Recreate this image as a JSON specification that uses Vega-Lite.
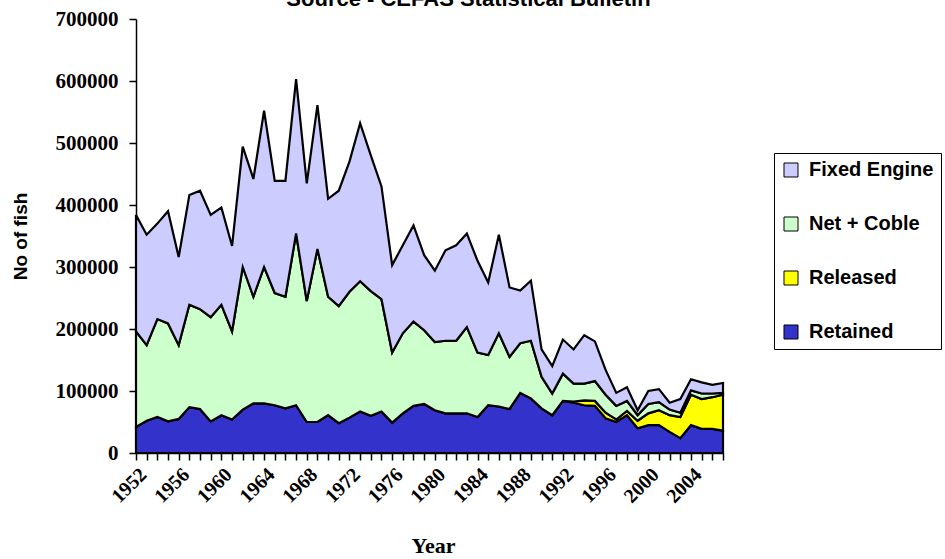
{
  "$schema": "https://vega.github.io/schema/vega-lite/v6.json",
  "autosize": "none",
  "width": 587,
  "height": 434,
  "padding": {"left": 136, "top": 19, "right": 222, "bottom": 106},
  "background": "white",
  "title": {
    "text": "Source - CEFAS Statistical Bulletin",
    "font": "Liberation Sans",
    "fontWeight": "bold",
    "fontSize": 22,
    "color": "black",
    "anchor": "middle",
    "frame": "group",
    "dx": 39,
    "dy": 20,
    "baseline": "alphabetic",
    "offset": 0
  },
  "config": {
    "view": {"stroke": null},
    "axis": {"grid": false, "domainColor": "black", "tickColor": "black", "labelColor": "black", "titleColor": "black", "domainWidth": 1.5, "tickWidth": 1.5, "tickSize": 7}
  },
  "data": {
    "values": [
      {"Year":1952,"Retained":42000,"Released":0,"Net + Coble":154000,"Fixed Engine":188000},
      {"Year":1953,"Retained":52000,"Released":0,"Net + Coble":122000,"Fixed Engine":178000},
      {"Year":1954,"Retained":58000,"Released":0,"Net + Coble":158000,"Fixed Engine":154000},
      {"Year":1955,"Retained":51000,"Released":0,"Net + Coble":158000,"Fixed Engine":181000},
      {"Year":1956,"Retained":55000,"Released":0,"Net + Coble":119000,"Fixed Engine":142000},
      {"Year":1957,"Retained":74000,"Released":0,"Net + Coble":165000,"Fixed Engine":177000},
      {"Year":1958,"Retained":71000,"Released":0,"Net + Coble":161000,"Fixed Engine":191000},
      {"Year":1959,"Retained":51000,"Released":0,"Net + Coble":168000,"Fixed Engine":165000},
      {"Year":1960,"Retained":61000,"Released":0,"Net + Coble":178000,"Fixed Engine":157000},
      {"Year":1961,"Retained":54000,"Released":0,"Net + Coble":142000,"Fixed Engine":138000},
      {"Year":1962,"Retained":70000,"Released":0,"Net + Coble":230000,"Fixed Engine":194000},
      {"Year":1963,"Retained":80000,"Released":0,"Net + Coble":172000,"Fixed Engine":190000},
      {"Year":1964,"Retained":80000,"Released":0,"Net + Coble":220000,"Fixed Engine":252000},
      {"Year":1965,"Retained":77000,"Released":0,"Net + Coble":181000,"Fixed Engine":181000},
      {"Year":1966,"Retained":72000,"Released":0,"Net + Coble":180000,"Fixed Engine":187000},
      {"Year":1967,"Retained":77000,"Released":0,"Net + Coble":277000,"Fixed Engine":249000},
      {"Year":1968,"Retained":50000,"Released":0,"Net + Coble":195000,"Fixed Engine":190000},
      {"Year":1969,"Retained":50000,"Released":0,"Net + Coble":279000,"Fixed Engine":232000},
      {"Year":1970,"Retained":61000,"Released":0,"Net + Coble":191000,"Fixed Engine":158000},
      {"Year":1971,"Retained":48000,"Released":0,"Net + Coble":189000,"Fixed Engine":186000},
      {"Year":1972,"Retained":57000,"Released":0,"Net + Coble":203000,"Fixed Engine":210000},
      {"Year":1973,"Retained":67000,"Released":0,"Net + Coble":210000,"Fixed Engine":255000},
      {"Year":1974,"Retained":60000,"Released":0,"Net + Coble":201000,"Fixed Engine":219000},
      {"Year":1975,"Retained":67000,"Released":0,"Net + Coble":181000,"Fixed Engine":182000},
      {"Year":1976,"Retained":49000,"Released":0,"Net + Coble":113000,"Fixed Engine":141000},
      {"Year":1977,"Retained":64000,"Released":0,"Net + Coble":129000,"Fixed Engine":142000},
      {"Year":1978,"Retained":76000,"Released":0,"Net + Coble":136000,"Fixed Engine":155000},
      {"Year":1979,"Retained":79000,"Released":0,"Net + Coble":119000,"Fixed Engine":121000},
      {"Year":1980,"Retained":69000,"Released":0,"Net + Coble":110000,"Fixed Engine":115000},
      {"Year":1981,"Retained":64000,"Released":0,"Net + Coble":117000,"Fixed Engine":146000},
      {"Year":1982,"Retained":64000,"Released":0,"Net + Coble":117000,"Fixed Engine":154000},
      {"Year":1983,"Retained":64000,"Released":0,"Net + Coble":139000,"Fixed Engine":151000},
      {"Year":1984,"Retained":58000,"Released":0,"Net + Coble":104000,"Fixed Engine":148000},
      {"Year":1985,"Retained":77000,"Released":0,"Net + Coble":81000,"Fixed Engine":117000},
      {"Year":1986,"Retained":75000,"Released":0,"Net + Coble":118000,"Fixed Engine":159000},
      {"Year":1987,"Retained":71000,"Released":0,"Net + Coble":84000,"Fixed Engine":112000},
      {"Year":1988,"Retained":97000,"Released":0,"Net + Coble":80000,"Fixed Engine":85000},
      {"Year":1989,"Retained":88000,"Released":0,"Net + Coble":93000,"Fixed Engine":97000},
      {"Year":1990,"Retained":72000,"Released":0,"Net + Coble":51000,"Fixed Engine":44000},
      {"Year":1991,"Retained":61000,"Released":0,"Net + Coble":35000,"Fixed Engine":44000},
      {"Year":1992,"Retained":84000,"Released":0,"Net + Coble":44000,"Fixed Engine":55000},
      {"Year":1993,"Retained":81000,"Released":2000,"Net + Coble":29000,"Fixed Engine":55000},
      {"Year":1994,"Retained":77000,"Released":8000,"Net + Coble":27000,"Fixed Engine":78000},
      {"Year":1995,"Retained":76000,"Released":8000,"Net + Coble":32000,"Fixed Engine":64000},
      {"Year":1996,"Retained":56000,"Released":9000,"Net + Coble":29000,"Fixed Engine":40000},
      {"Year":1997,"Retained":50000,"Released":4000,"Net + Coble":22000,"Fixed Engine":21000},
      {"Year":1998,"Retained":61000,"Released":7000,"Net + Coble":16000,"Fixed Engine":22000},
      {"Year":1999,"Retained":40000,"Released":12000,"Net + Coble":9000,"Fixed Engine":8000},
      {"Year":2000,"Retained":45000,"Released":19000,"Net + Coble":15000,"Fixed Engine":21000},
      {"Year":2001,"Retained":45000,"Released":24000,"Net + Coble":13000,"Fixed Engine":21000},
      {"Year":2002,"Retained":34000,"Released":27000,"Net + Coble":9000,"Fixed Engine":11000},
      {"Year":2003,"Retained":24000,"Released":34000,"Net + Coble":7000,"Fixed Engine":22000},
      {"Year":2004,"Retained":45000,"Released":49000,"Net + Coble":7000,"Fixed Engine":18000},
      {"Year":2005,"Retained":39000,"Released":48000,"Net + Coble":9000,"Fixed Engine":18000},
      {"Year":2006,"Retained":39000,"Released":51000,"Net + Coble":6000,"Fixed Engine":14000},
      {"Year":2007,"Retained":36000,"Released":58000,"Net + Coble":3000,"Fixed Engine":16000}
    ]
  },
  "transform": [
    {"fold": ["Retained", "Released", "Net + Coble", "Fixed Engine"], "as": ["Series", "Count"]}
  ],
  "mark": {"type": "area", "stroke": "black", "strokeWidth": 2.2, "strokeJoin": "miter", "opacity": 1},
  "encoding": {
    "x": {
      "field": "Year",
      "type": "quantitative",
      "scale": {"domain": [1952, 2007], "nice": false, "zero": false},
      "axis": {
        "title": "Year",
        "values": [1952,1953,1954,1955,1956,1957,1958,1959,1960,1961,1962,1963,1964,1965,1966,1967,1968,1969,1970,1971,1972,1973,1974,1975,1976,1977,1978,1979,1980,1981,1982,1983,1984,1985,1986,1987,1988,1989,1990,1991,1992,1993,1994,1995,1996,1997,1998,1999,2000,2001,2002,2003,2004,2005,2006,2007],
        "format": "d",
        "labelExpr": "(datum.value - 1952) % 4 == 0 && datum.value <= 2004 ? datum.label : ''",
        "labelAngle": -45,
        "labelFont": "Liberation Serif",
        "labelFontWeight": "bold",
        "labelFontSize": 20,
        "labelPadding": 4,
        "labelOverlap": false,
        "labelFlush": false,
        "titleFont": "Liberation Serif",
        "titleFontWeight": "bold",
        "titleFontSize": 22,
        "titleX": 297,
        "titleY": 92,
        "titleAnchor": null,
        "titleAlign": "center",
        "titleBaseline": "middle"
      }
    },
    "y": {
      "field": "Count",
      "type": "quantitative",
      "stack": "zero",
      "scale": {"domain": [0, 700000], "nice": false},
      "axis": {
        "title": "No of fish",
        "values": [0,100000,200000,300000,400000,500000,600000,700000],
        "format": "d",
        "labelFont": "Liberation Serif",
        "labelFontWeight": "bold",
        "labelFontSize": 21,
        "labelPadding": 11,
        "labelFlush": false,
        "titleFont": "Liberation Sans",
        "titleFontWeight": "bold",
        "titleFontSize": 19,
        "titleAngle": -90,
        "titleX": -116,
        "titleY": 217,
        "titleAlign": "center",
        "titleBaseline": "middle"
      }
    },
    "color": {
      "field": "Series",
      "type": "nominal",
      "scale": {
        "domain": ["Fixed Engine", "Net + Coble", "Released", "Retained"],
        "range": ["#CCCCFF", "#CCFFCC", "#FFFF00", "#3333CC"]
      },
      "legend": {
        "title": null,
        "orient": "none",
        "legendX": 638,
        "legendY": 134,
        "direction": "vertical",
        "symbolType": "square",
        "symbolSize": 196,
        "symbolStrokeColor": "black",
        "symbolStrokeWidth": 1,
        "symbolOpacity": 1,
        "labelFont": "Liberation Sans",
        "labelFontWeight": "bold",
        "labelFontSize": 20,
        "labelColor": "black",
        "labelOffset": 8,
        "labelLimit": 0,
        "rowPadding": 34,
        "padding": 7,
        "strokeColor": "black",
        "fillColor": "white"
      }
    },
    "order": {"field": "Series", "sort": "descending"}
  }
}
